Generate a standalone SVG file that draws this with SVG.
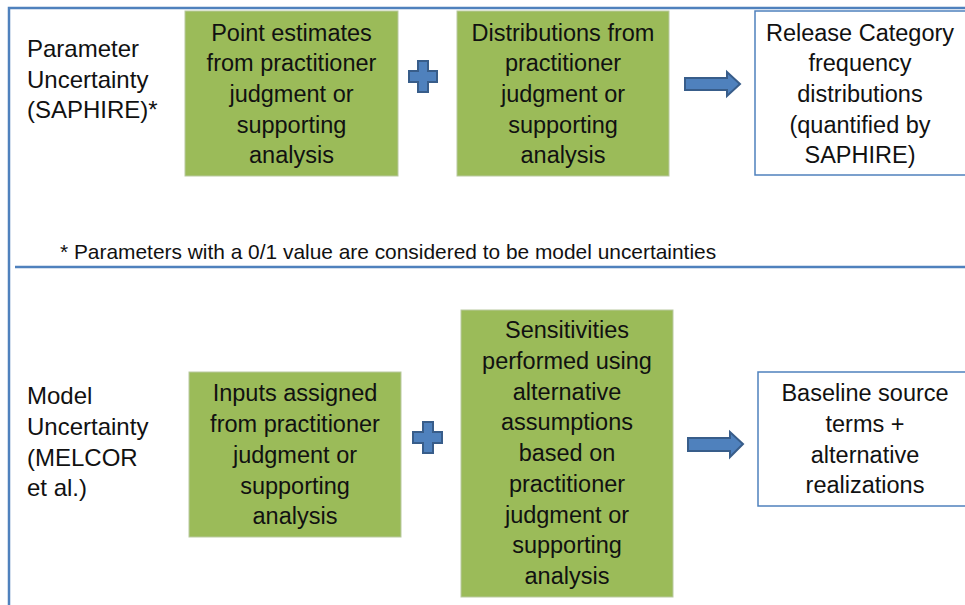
<svg xmlns="http://www.w3.org/2000/svg" width="965" height="605" viewBox="0 0 965 605">
<defs>
<style>
text{font-family:"Liberation Sans",Arial,sans-serif;font-size:23.5px;fill:#111;}
.c{text-anchor:middle;}
.g{fill:#9BBB59;stroke:#B9C9A0;stroke-width:1;}
.w{fill:#fff;stroke:#4F81BD;stroke-width:1.5;}
.frame{stroke:#4F81BD;stroke-width:2.5;fill:none;}
.sym{fill:#4F81BD;stroke:#385D8A;stroke-width:2;}
.fn{font-size:20.9px;}
.lb{font-size:24px;}
</style>
</defs>
<rect width="965" height="605" fill="#fff"/>
<g id="frame">
<path class="frame" d="M9,605 V8 H965"/>
<path class="frame" d="M15,267 H965"/>
</g>
<g id="label-param">
<text class="lb" x="27" y="57">Parameter</text>
<text class="lb" x="27" y="88">Uncertainty</text>
<text class="lb" x="27" y="118">(SAPHIRE)*</text>
</g>
<g id="label-model">
<text class="lb" x="27" y="404">Model</text>
<text class="lb" x="27" y="435">Uncertainty</text>
<text class="lb" x="27" y="466">(MELCOR</text>
<text class="lb" x="27" y="496">et al.)</text>
</g>
<g id="footnote">
<text class="fn" x="60" y="259">* Parameters with a 0/1 value are considered to be model uncertainties</text>
</g>
<g id="n1">
<rect class="g" x="185" y="11" width="213" height="165"/>
<text class="c" x="291.5" y="41">Point estimates</text>
<text class="c" x="291.5" y="71">from practitioner</text>
<text class="c" x="291.5" y="102">judgment or</text>
<text class="c" x="291.5" y="133">supporting</text>
<text class="c" x="291.5" y="163">analysis</text>
</g>
<g id="n2">
<rect class="g" x="457" y="11" width="212" height="165"/>
<text class="c" x="563" y="41">Distributions from</text>
<text class="c" x="563" y="71">practitioner</text>
<text class="c" x="563" y="102">judgment or</text>
<text class="c" x="563" y="133">supporting</text>
<text class="c" x="563" y="163">analysis</text>
</g>
<g id="n3">
<rect class="w" x="755" y="11" width="215" height="164"/>
<text class="c" x="860" y="41">Release Category</text>
<text class="c" x="860" y="71">frequency</text>
<text class="c" x="860" y="102">distributions</text>
<text class="c" x="860" y="133">(quantified by</text>
<text class="c" x="860" y="163">SAPHIRE)</text>
</g>
<g id="n4">
<rect class="g" x="189" y="372" width="212" height="165"/>
<text class="c" x="295" y="401">Inputs assigned</text>
<text class="c" x="295" y="432">from practitioner</text>
<text class="c" x="295" y="463">judgment or</text>
<text class="c" x="295" y="494">supporting</text>
<text class="c" x="295" y="524">analysis</text>
</g>
<g id="n5">
<rect class="g" x="461" y="310" width="212" height="287"/>
<text class="c" x="567" y="338">Sensitivities</text>
<text class="c" x="567" y="369">performed using</text>
<text class="c" x="567" y="400">alternative</text>
<text class="c" x="567" y="430">assumptions</text>
<text class="c" x="567" y="461">based on</text>
<text class="c" x="567" y="492">practitioner</text>
<text class="c" x="567" y="523">judgment or</text>
<text class="c" x="567" y="553">supporting</text>
<text class="c" x="567" y="584">analysis</text>
</g>
<g id="n6">
<rect class="w" x="758" y="372" width="212" height="134"/>
<text class="c" x="865" y="401">Baseline source</text>
<text class="c" x="865" y="432">terms +</text>
<text class="c" x="865" y="463">alternative</text>
<text class="c" x="865" y="493">realizations</text>
</g>
<g id="connectors">
<path class="sym" d="M418,61 H428 V71 H437 V82 H428 V92 H418 V82 H409 V71 H418 Z"/>
<path class="sym" d="M423,422 H433 V432 H442 V443 H433 V453 H423 V443 H413 V432 H423 Z"/>
<path class="sym" d="M685,78 H727 V72 L740,84 L727,96 V90 H685 Z"/>
<path class="sym" d="M688,438 H730 V432 L743,444 L730,457 V451 H688 Z"/>
</g>
</svg>
